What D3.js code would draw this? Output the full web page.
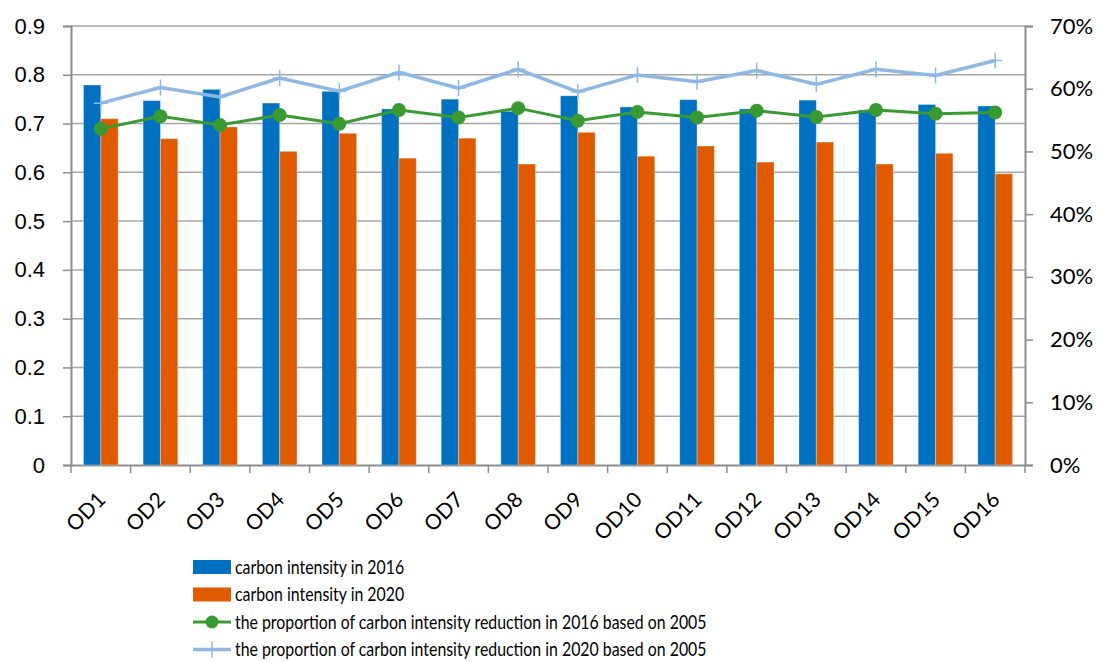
<!DOCTYPE html>
<html>
<head>
<meta charset="utf-8">
<script src="https://cdn.jsdelivr.net/npm/d3@7"></script>
<style>
  body { margin: 0; background: #fff; }
  svg { display: block; }
</style>
</head>
<body>
<div id="chart"></div>
<script>
// data
const categories = ["OD1","OD2","OD3","OD4","OD5","OD6","OD7","OD8","OD9","OD10","OD11","OD12","OD13","OD14","OD15","OD16"];
const intensity2016 = [0.779,0.747,0.770,0.742,0.766,0.730,0.750,0.725,0.757,0.734,0.749,0.730,0.748,0.728,0.739,0.736];
const intensity2020 = [0.710,0.669,0.693,0.643,0.680,0.629,0.670,0.617,0.682,0.633,0.654,0.621,0.662,0.617,0.639,0.597];
const reduction2016 = [0.536,0.556,0.542,0.558,0.544,0.566,0.554,0.569,0.549,0.563,0.554,0.565,0.555,0.566,0.560,0.562];
const reduction2020 = [0.577,0.602,0.587,0.617,0.596,0.626,0.601,0.631,0.595,0.622,0.611,0.629,0.607,0.631,0.621,0.645];
const leftTicks = [0,0.1,0.2,0.3,0.4,0.5,0.6,0.7,0.8,0.9];
const rightTicks = [0,0.1,0.2,0.3,0.4,0.5,0.6,0.7];
const legendLabels = [
  "carbon intensity in 2016",
  "carbon intensity in 2020",
  "the proportion of carbon intensity reduction in 2016 based on 2005",
  "the proportion of carbon intensity reduction in 2020 based on 2005"
];

const blue = "#0070C0", orange = "#E05B00", green = "#3A9A32", lightBlue = "#8CB8E3";
const gridColor = "#A6A6A6", axisColor = "#8C8C8C";

const W = 1102, H = 662;
const margins = { top: 26, right: 77, bottom: 197, left: 71 };
const width = W - margins.left - margins.right;
const height = H - margins.top - margins.bottom;

const svg = d3.select("#chart").append("svg")
    .attr("width", W)
    .attr("height", H)
    .append("g")
    .attr("transform", "translate(" + margins.left + "," + margins.top + ")");

// scales
const x = d3.scaleBand().domain(categories).range([0, width]).padding(0);
const xInner = d3.scaleBand().domain(["2016", "2020"]).range([0, x.bandwidth()]).paddingInner(0).paddingOuter(0.72);
const yLeft = d3.scaleLinear().domain([0, 0.9]).range([height, 0]);
const yRight = d3.scaleLinear().domain([0, 0.7]).range([height, 0]);

// gridlines
svg.append("g")
    .selectAll("line")
    .data(leftTicks.slice(1))
    .enter()
    .append("line")
    .attr("x1", 0).attr("x2", width)
    .attr("y1", d => yLeft(d)).attr("y2", d => yLeft(d))
    .attr("stroke", gridColor)
    .attr("stroke-width", 1.5);

// left axis
const leftAxis = svg.append("g")
    .call(d3.axisLeft(yLeft).tickValues(leftTicks).tickSize(8).tickPadding(18).tickFormat(d => d === 0 ? "0" : d3.format(".1f")(d)));
leftAxis.selectAll("text").style("font-family", "Liberation Sans, Arial, sans-serif").style("font-size", "22px").attr("fill", "#000");

// right axis
const rightAxis = svg.append("g")
    .attr("transform", "translate(" + width + ",0)")
    .call(d3.axisRight(yRight).tickValues(rightTicks).tickSize(8).tickPadding(17).tickFormat(d3.format(".0%")));
rightAxis.selectAll("text").style("font-family", "Lato, sans-serif").style("font-size", "22px").attr("fill", "#000");

// bottom axis
const bottomAxis = svg.append("g")
    .attr("transform", "translate(0," + height + ")")
    .call(d3.axisBottom(x).tickSize(0).tickFormat(""));
bottomAxis.selectAll(".tick").remove();
bottomAxis.append("g")
    .selectAll("line")
    .data(d3.range(categories.length + 1))
    .enter()
    .append("line")
    .attr("x1", i => i * x.step()).attr("x2", i => i * x.step())
    .attr("y1", 0).attr("y2", 8)
    .attr("stroke", axisColor).attr("stroke-width", 1.5);

[leftAxis, rightAxis, bottomAxis].forEach(a => {
  a.select(".domain").attr("stroke", axisColor).attr("stroke-width", 2);
  a.selectAll(".tick line").attr("stroke", axisColor).attr("stroke-width", 1.5);
});

// category labels
svg.append("g")
    .selectAll("text")
    .data(categories)
    .enter()
    .append("text")
    .attr("transform", d => "translate(" + (x(d) + x.bandwidth() / 2 + 6) + "," + (height + 36) + ") rotate(-45)")
    .attr("text-anchor", "end")
    .style("font-family", "Lato, sans-serif")
    .style("font-size", "21px")
    .text(d => d);

// bars
const groups = svg.append("g")
    .selectAll("g")
    .data(categories)
    .enter()
    .append("g")
    .attr("transform", d => "translate(" + x(d) + ",0)");

groups.append("rect")
    .attr("x", xInner("2016"))
    .attr("width", xInner.bandwidth())
    .attr("y", (d, i) => yLeft(intensity2016[i]))
    .attr("height", (d, i) => height - yLeft(intensity2016[i]))
    .attr("fill", blue)
    .attr("stroke", "#ffffff").attr("stroke-opacity", 0.3).attr("stroke-width", 1);

groups.append("rect")
    .attr("x", xInner("2020"))
    .attr("width", xInner.bandwidth())
    .attr("y", (d, i) => yLeft(intensity2020[i]))
    .attr("height", (d, i) => height - yLeft(intensity2020[i]))
    .attr("fill", orange)
    .attr("stroke", "#ffffff").attr("stroke-opacity", 0.3).attr("stroke-width", 1);

// lines
const cx = d => x(d) + x.bandwidth() / 2;

const lineGen = d3.line()
    .x((d, i) => cx(categories[i]))
    .y(d => yRight(d));

svg.append("path")
    .datum(reduction2020)
    .attr("d", lineGen)
    .attr("fill", "none")
    .attr("stroke", lightBlue)
    .attr("stroke-width", 3.5);

svg.append("g")
    .selectAll("path")
    .data(reduction2020)
    .enter()
    .append("path")
    .attr("d", (d, i) => {
      const px = cx(categories[i]), py = yRight(d);
      return "M" + (px - 7) + "," + py + "H" + (px + 7) + "M" + px + "," + (py - 8) + "V" + (py + 8);
    })
    .attr("stroke", lightBlue)
    .attr("stroke-width", 1.5);

svg.append("path")
    .datum(reduction2016)
    .attr("d", lineGen)
    .attr("fill", "none")
    .attr("stroke", green)
    .attr("stroke-width", 3);

svg.append("g")
    .selectAll("circle")
    .data(reduction2016)
    .enter()
    .append("circle")
    .attr("cx", (d, i) => cx(categories[i]))
    .attr("cy", d => yRight(d))
    .attr("r", 7)
    .attr("fill", green);

// legend
const legend = svg.append("g")
    .attr("transform", "translate(" + (193 - margins.left) + "," + (567 - margins.top) + ")");

const rowGap = 27.5;
legendLabels.forEach((label, i) => {
  const row = legend.append("g").attr("transform", "translate(0," + (i * rowGap) + ")");
  if (i < 2) {
    row.append("rect")
      .attr("x", 0).attr("y", -7).attr("width", 38).attr("height", 14)
      .attr("fill", i === 0 ? blue : orange);
  } else if (i === 2) {
    row.append("line").attr("x1", 0).attr("x2", 38).attr("y1", 0).attr("y2", 0)
      .attr("stroke", green).attr("stroke-width", 3);
    row.append("circle").attr("cx", 19).attr("cy", 0).attr("r", 6.5).attr("fill", green);
  } else {
    row.append("line").attr("x1", 0).attr("x2", 38).attr("y1", 0).attr("y2", 0)
      .attr("stroke", lightBlue).attr("stroke-width", 3.5);
    row.append("line").attr("x1", 19).attr("x2", 19).attr("y1", -8).attr("y2", 8)
      .attr("stroke", lightBlue).attr("stroke-width", 1.5);
  }
  // Calibri-like narrow text: condense Lato horizontally
  row.append("text")
    .attr("transform", "translate(42,0) scale(0.835,1)")
    .attr("dy", "0.35em")
    .style("font-family", "Lato, sans-serif")
    .style("font-size", "19px")
    .text(label);
});
</script>
</body>
</html>
